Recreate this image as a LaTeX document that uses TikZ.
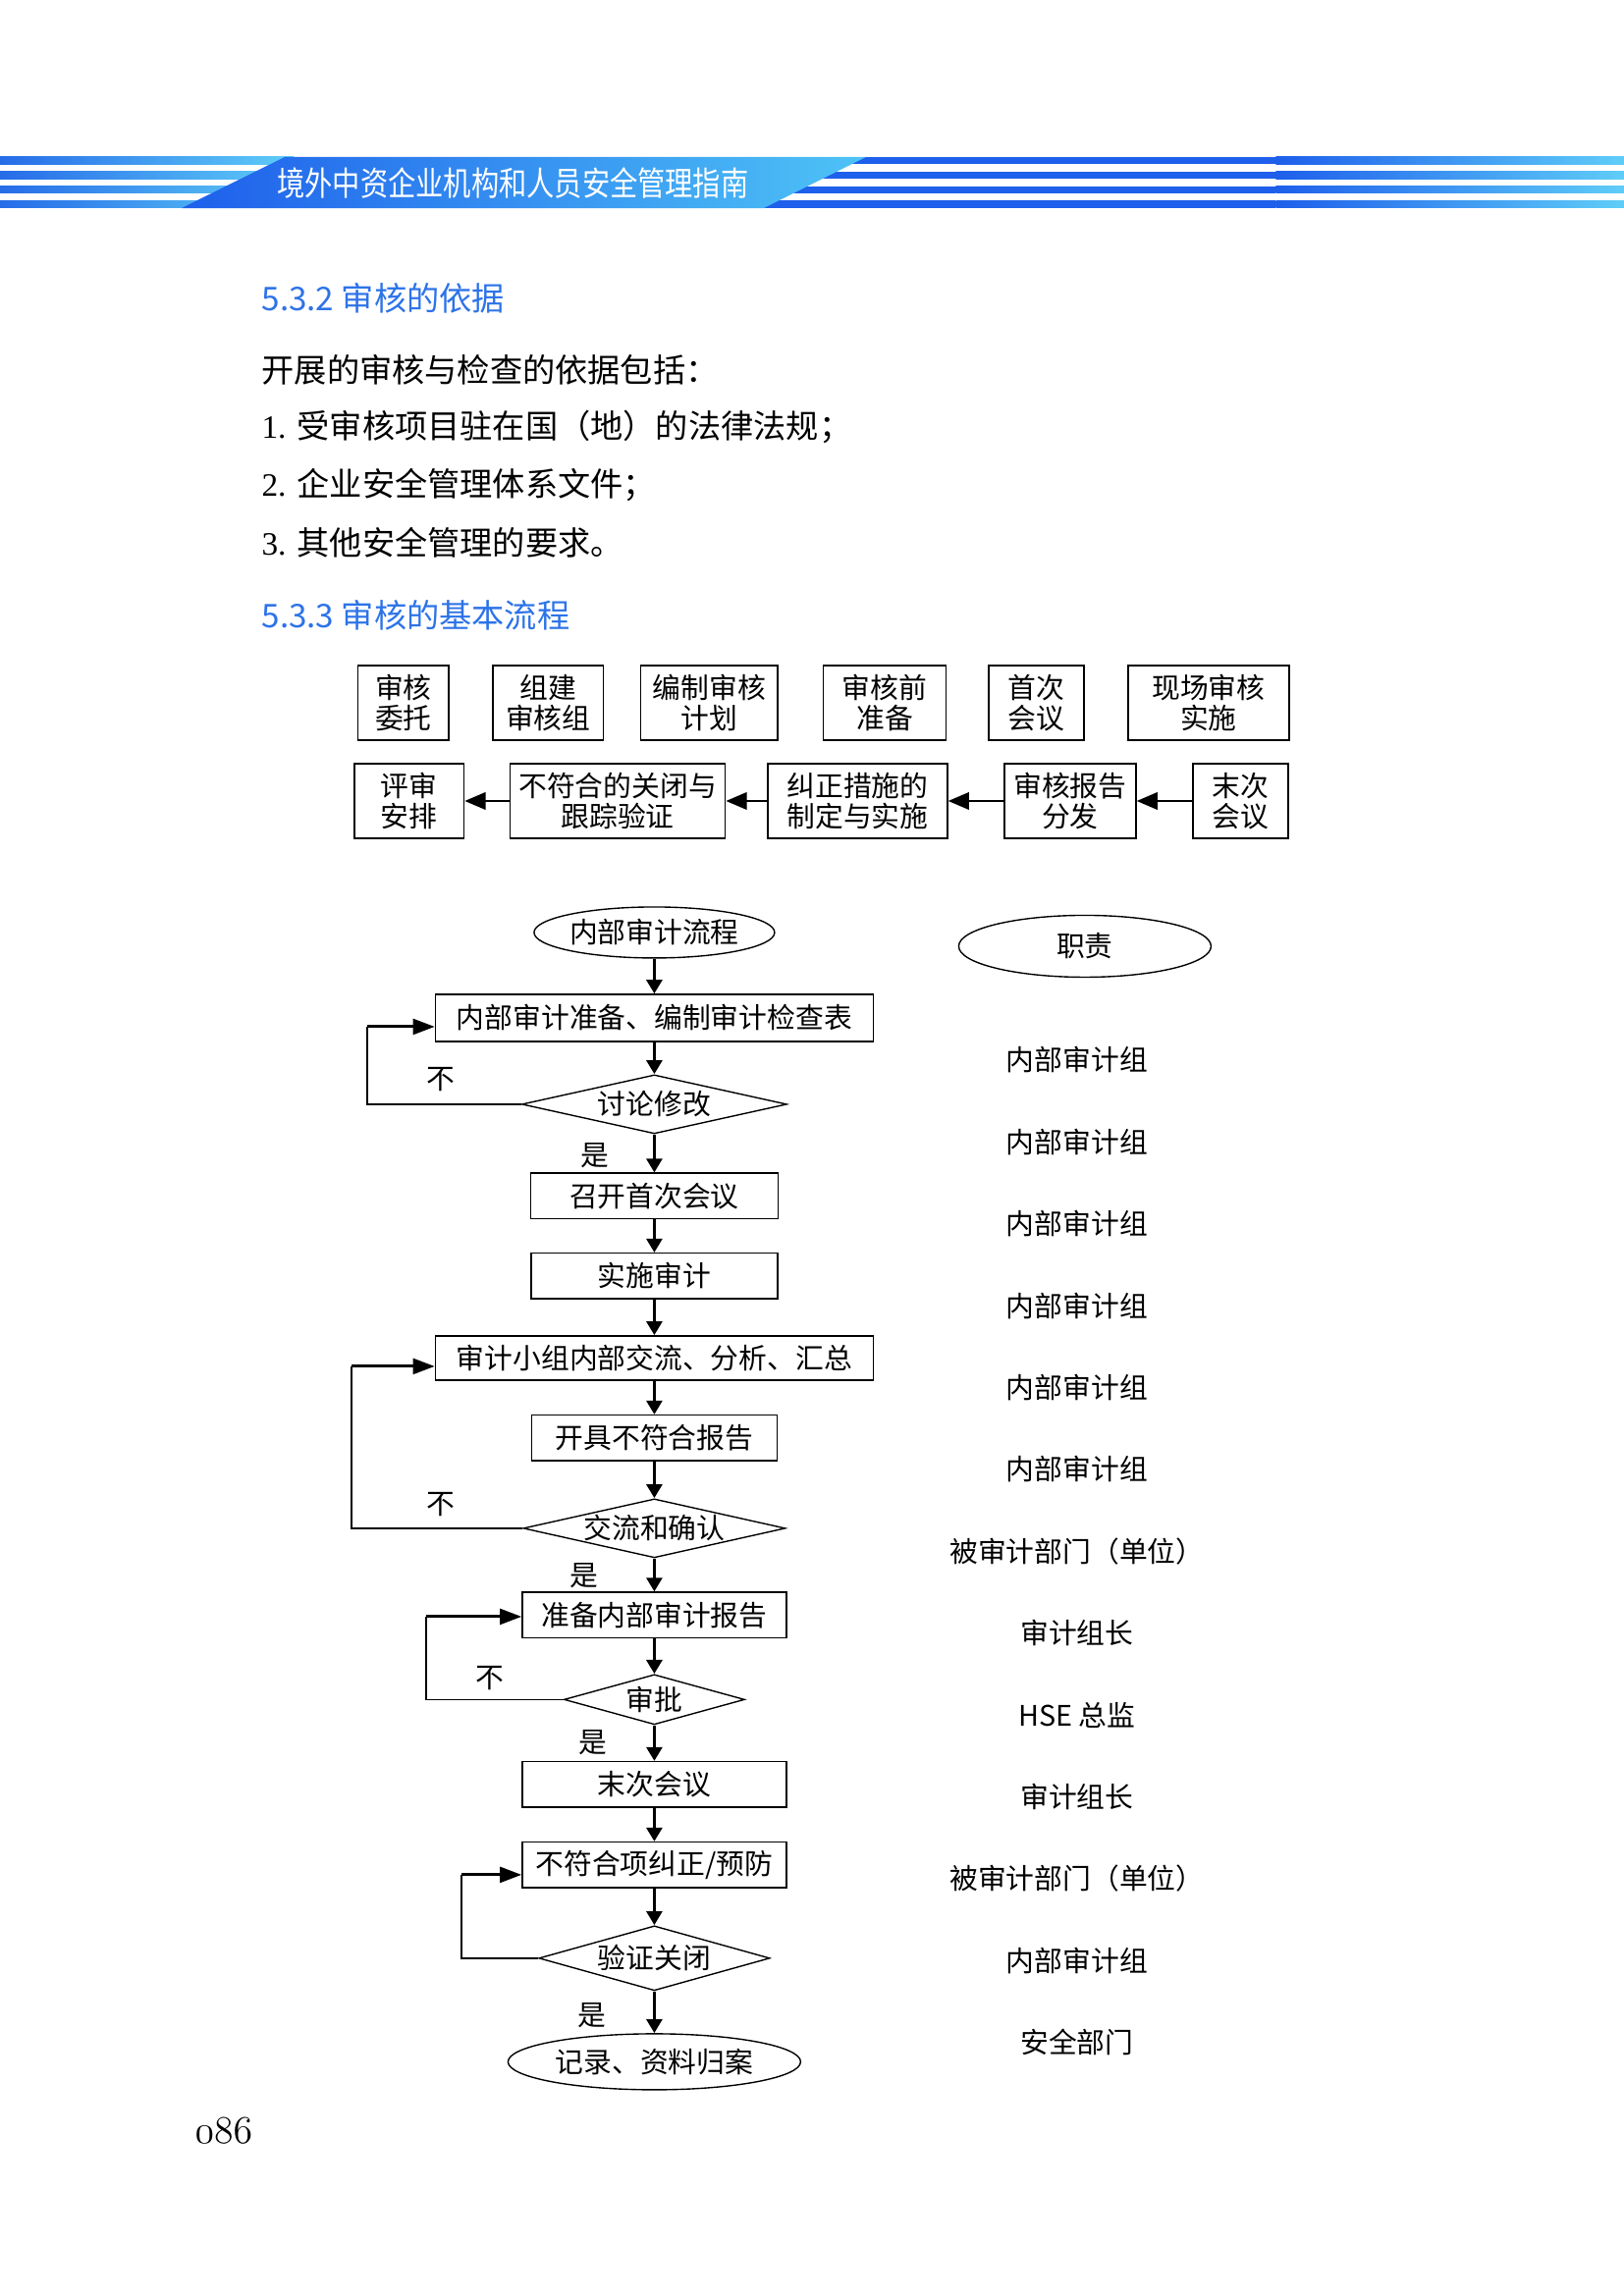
\documentclass[tikz,border=0pt]{standalone}
\usepackage{fontspec}
\usepackage{graphicx}
\setmainfont{Liberation Serif}
\newfontfamily\cjk{Noto Sans CJK SC}
\usetikzlibrary{shapes.geometric, arrows.meta, positioning, calc}
\definecolor{bandblue}{RGB}{30, 95, 235}
\definecolor{bandcyan}{RGB}{78, 195, 246}
\definecolor{stripeblue}{RGB}{38, 108, 232}
\definecolor{stripecyan}{RGB}{95, 205, 248}
\definecolor{titleblue}{RGB}{45, 115, 232}

\begin{document}
\begin{tikzpicture}[
        %% Page is A4 (21 x 29.7 cm), origin at the top-left corner, y downwards negative.
        txt/.style={font=\cjk\fontsize{10.4}{11.2}\selectfont, align=center},
        topbox/.style={txt, rectangle, draw=black, line width=0.5pt, minimum height=0.965cm, inner sep=1pt},
        box/.style={txt, rectangle, draw=black, line width=0.5pt, minimum height=0.59cm, inner sep=1pt},
        decision/.style={txt, diamond, draw=black, line width=0.5pt, aspect=4.5, inner sep=0pt},
        terminal/.style={txt, ellipse, draw=black, line width=0.5pt, inner sep=0pt},
        dutylabel/.style={txt},
        yesno/.style={txt, inner sep=0pt},
        arrow/.style={-{Triangle[length=0.18cm, width=0.2cm]}, line width=1.3pt},
        backarrow/.style={-{Triangle[length=0.28cm, width=0.2cm]}, line width=1.1pt},
        leftarrow/.style={-{Triangle[length=0.27cm, width=0.22cm]}, line width=1pt},
        line/.style={line width=0.5pt},
        bodytext/.style={anchor=west, inner sep=0pt, font=\fontsize{12}{14}\selectfont},
        sectitle/.style={anchor=west, inner sep=0pt, text=titleblue, font=\cjk\fontsize{12}{14}\selectfont}
    ]
    \useasboundingbox (0, 0) rectangle (21, -29.7);

    %% --- Running head: four stripes, slanted title band on top ---
    \foreach \k in {0, 1, 2, 3} {
        \shade[left color=stripeblue, right color=stripecyan]
            (0, {-2.031-0.188*\k}) rectangle (3.8, {-2.123-0.188*\k});
        \fill[bandblue] (9.7, {-2.031-0.188*\k}) rectangle (16.5, {-2.123-0.188*\k});
        \shade[left color=bandblue, right color=stripecyan]
            (16.5, {-2.031-0.188*\k}) rectangle (21, {-2.123-0.188*\k});
    }
    \shade[left color=bandblue, right color=bandcyan]
        (2.349, -2.692) -- (3.682, -2.031) -- (11.199, -2.031) -- (9.878, -2.692) -- cycle;
    \node[anchor=west, inner sep=0pt, text=white, font=\cjk\fontsize{10.2}{12}\selectfont]
        (booktitle) at (3.58, -2.374) {\scalebox{1}[1.2]{境外中资企业机构和人员安全管理指南}};

    %% --- Text block ---
    \node[sectitle] (sec532) at (3.378, -3.86) {5.3.2 审核的依据};
    \node[bodytext] (intro) at (3.378, -4.787) {\cjk 开展的审核与检查的依据包括：};
    \node[bodytext] (item1) at (3.378, -5.529) {1. {\cjk 受审核项目驻在国（地）的法律法规；}};
    \node[bodytext] (item2) at (3.378, -6.272) {2. {\cjk 企业安全管理体系文件；}};
    \node[bodytext] (item3) at (3.378, -7.021) {3. {\cjk 其他安全管理的要求。}};
    \node[sectitle] (sec533) at (3.378, -7.961) {5.3.3 审核的基本流程};

    %% --- Basic audit flow: upper row (no connectors) ---
    \node[topbox, minimum width=1.173cm] (entrust) at (5.216, -9.091) {审核\\委托};
    \node[topbox, minimum width=1.43cm]  (team)    at (7.089, -9.091) {组建\\审核组};
    \node[topbox, minimum width=1.771cm] (plan)    at (9.171, -9.091) {编制审核\\计划};
    \node[topbox, minimum width=1.587cm] (prepare) at (11.442, -9.091) {审核前\\准备};
    \node[topbox, minimum width=1.232cm] (opening) at (13.402, -9.091) {首次\\会议};
    \node[topbox, minimum width=2.082cm] (onsite)  at (15.63, -9.091) {现场审核\\实施};

    %% --- Basic audit flow: lower row, right to left ---
    \node[topbox, minimum width=1.417cm] (review)  at (5.292, -10.361) {评审\\安排};
    \node[topbox, minimum width=2.783cm] (closure) at (7.988, -10.361) {不符合的关闭与\\跟踪验证};
    \node[topbox, minimum width=2.324cm] (correct) at (11.091, -10.361) {纠正措施的\\制定与实施};
    \node[topbox, minimum width=1.701cm] (report)  at (13.84, -10.361) {审核报告\\分发};
    \node[topbox, minimum width=1.232cm] (closing) at (16.043, -10.361) {末次\\会议};

    \draw[leftarrow] (closing.west) -- (report.east);
    \draw[leftarrow] (report.west)  -- (correct.east);
    \draw[leftarrow] (correct.west) -- (closure.east);
    \draw[leftarrow] (closure.west) -- (review.east);

    %% --- Internal audit flow (column x = 8.462) ---
    \node[terminal, minimum width=3.111cm, minimum height=0.66cm] (start) at (8.462, -12.062) {内部审计流程};
    \node[box, minimum width=5.663cm, minimum height=0.609cm] (prep) at (8.462, -13.167) {内部审计准备、编制审计检查表};
    \node[decision, minimum width=3.428cm, minimum height=0.762cm] (discuss) at (8.462, -14.284) {讨论修改};
    \node[box, minimum width=3.2cm]   (kickoff) at (8.462, -15.471) {召开首次会议};
    \node[box, minimum width=3.187cm] (execute) at (8.462, -16.506) {实施审计};
    \node[box, minimum width=5.663cm, minimum height=0.571cm] (summary) at (8.462, -17.566) {审计小组内部交流、分析、汇总};
    \node[box, minimum width=3.174cm] (ncreport) at (8.462, -18.601) {开具不符合报告};
    \node[decision, minimum width=3.39cm, minimum height=0.762cm] (confirm) at (8.462, -19.769) {交流和确认};
    \node[box, minimum width=3.415cm] (draft) at (8.462, -20.892) {准备内部审计报告};
    \node[decision, minimum width=2.336cm, minimum height=0.648cm] (approve) at (8.462, -21.984) {审批};
    \node[box, minimum width=3.415cm] (closemeet) at (8.462, -23.083) {末次会议};
    \node[box, minimum width=3.415cm] (action) at (8.462, -24.124) {不符合项纠正/预防};
    \node[decision, minimum width=2.882cm, minimum height=0.838cm] (verify) at (8.462, -25.33) {验证关闭};
    \node[terminal, minimum width=3.784cm, minimum height=0.724cm] (archive) at (8.462, -26.67) {记录、资料归案};

    \foreach \a/\b in {start/prep, prep/discuss, discuss/kickoff, kickoff/execute,
                       execute/summary, summary/ncreport, ncreport/confirm, confirm/draft,
                       draft/approve, approve/closemeet, closemeet/action, action/verify,
                       verify/archive}
        \draw[arrow] (\a) -- (\b);

    %% --- "No" loops back to the left ---
    \coordinate (back1) at (4.749, -13.281);
    \draw[line] (discuss.west) -| (back1);
    \draw[backarrow] (back1) -- (back1 -| prep.west);

    \coordinate (back2) at (4.545, -17.674);
    \draw[line] (confirm.west) -| (back2);
    \draw[backarrow] (back2) -- (back2 -| summary.west);

    \coordinate (back3) at (5.51, -20.912);
    \draw[line] (approve.west) -| (back3);
    \draw[backarrow] (back3) -- (back3 -| draft.west);

    \coordinate (back4) at (5.968, -24.251);
    \draw[line] (verify.west) -| (back4);
    \draw[backarrow] (back4) -- (back4 -| action.west);

    %% --- Branch labels ---
    \node[yesno] (no1)  at (5.701, -13.967) {不};
    \node[yesno] (yes1) at (7.694, -14.944) {是};
    \node[yesno] (no2)  at (5.701, -19.464) {不};
    \node[yesno] (yes2) at (7.548, -20.379) {是};
    \node[yesno] (no3)  at (6.336, -21.711) {不};
    \node[yesno] (yes3) at (7.669, -22.537) {是};
    \node[yesno] (yes4) at (7.656, -26.067) {是};

    %% --- Responsibility column ---
    \node[terminal, minimum width=3.263cm, minimum height=0.8cm] (duty) at (14.03, -12.24) {职责};
    \foreach \t [count=\i] in {内部审计组, 内部审计组, 内部审计组, 内部审计组, 内部审计组, 内部审计组,
                               被审计部门（单位）, 审计组长, HSE 总监, 审计组长,
                               被审计部门（单位）, 内部审计组, 安全部门}
        \node[dutylabel] (duty\i) at (13.928, {-12.653-1.059*\i}) {\t};

    %% --- Folio ---
    \node[anchor=west, inner sep=0pt] (folio) at (2.514, -27.565)
        {\fontsize{14.5}{16}\usefont{OML}{cmm}{m}{it}086};
\end{tikzpicture}
\end{document}
